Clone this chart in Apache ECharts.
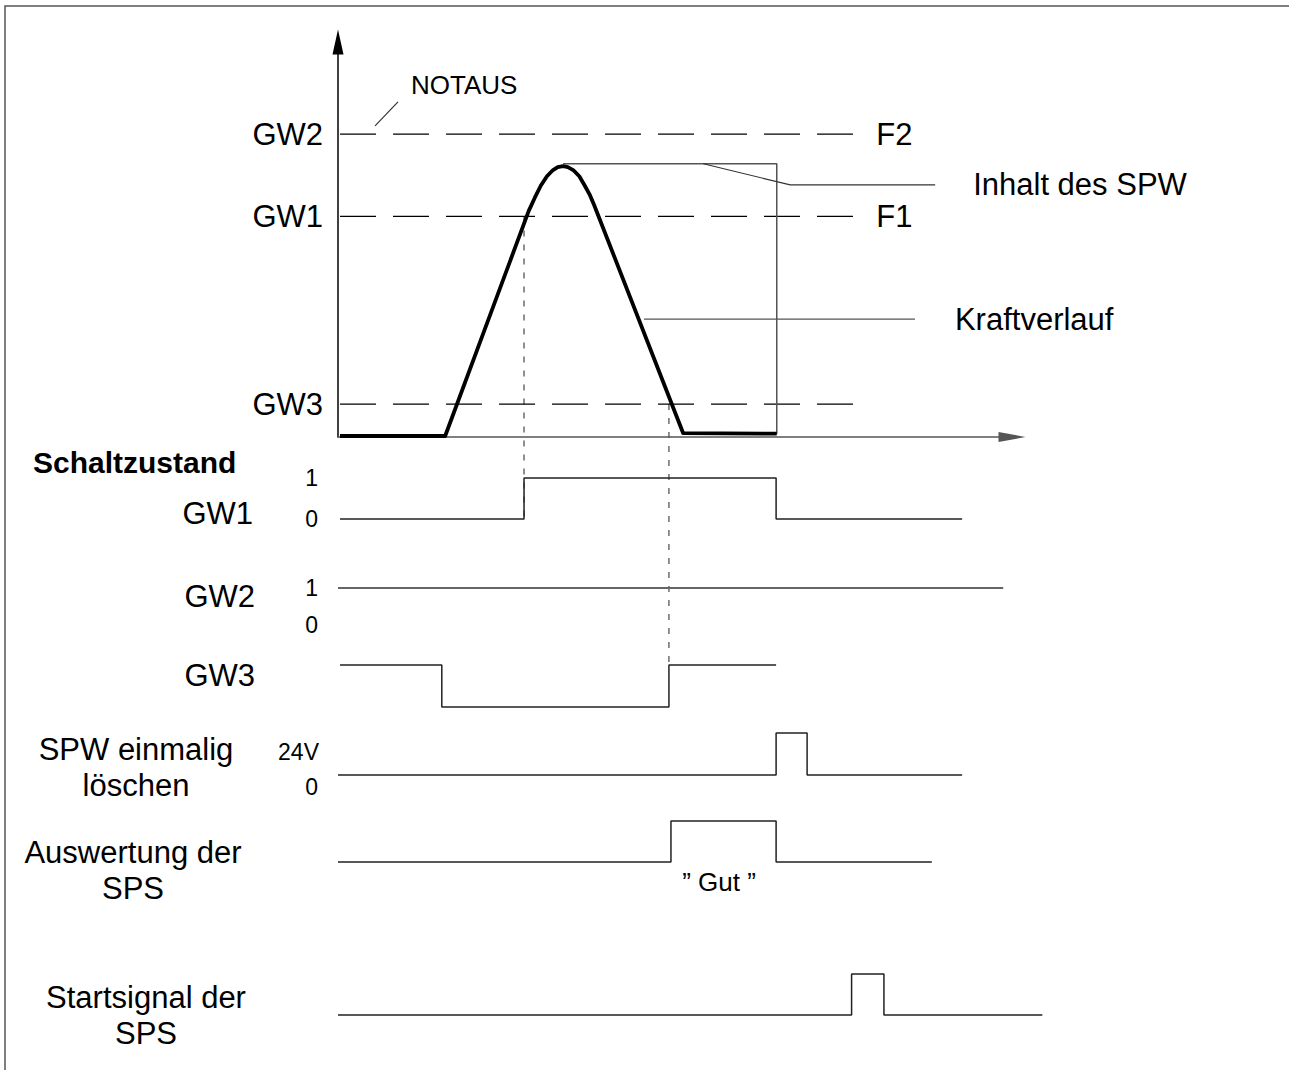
<!DOCTYPE html>
<html>
<head>
<meta charset="utf-8">
<script src="https://cdn.jsdelivr.net/npm/echarts@6/dist/echarts.min.js"></script>
<style>
  html, body { margin: 0; padding: 0; background: #fff; }
  #chart { width: 1289px; height: 1070px; }
</style>
</head>
<body>
<div id="chart"></div>
<script>
const FONT = '"Liberation Sans", Arial, Helvetica, sans-serif';

// Kraftverlauf: [time, force] (time 0..100, force 0..120)
const forceCurve = [
  [0.3, 0.3], [15.9, 0.3], [28.3, 68.7], [29.2, 72.7], [30.1, 76.4], [31.0, 79.2],
  [31.9, 81.1], [32.6, 82.0], [33.4, 82.3], [34.1, 82.0], [34.9, 81.1], [35.8, 79.2],
  [36.6, 76.4], [37.4, 73.4], [38.0, 70.5], [51.2, 1.2], [65.1, 1.0]
];
// Inhalt des SPW (peak hold)
const spwHold = [[33.4, 83], [65.1, 83], [65.1, 0.9]];

// limit values GW2 / GW1 / GW3
const limitNames = ['GW2', 'GW1', 'GW3'];
const limitValues = [92, 67, 10];
const limitEndNames = ['F2', 'F1', ''];
const limitSpan = [0.3, 76.9];

// leader lines of the annotations
const notausLeader = [[5.5, 94.5], [8.9, 101.8]];
const spwLeader = [[54.2, 83], [67.1, 76.6], [88.6, 76.6]];
const kraftLeader = [[45.4, 35.8], [85.6, 35.8]];

// switching states (step 'end')
const gw1Signal = [[0.3, 0], [27.6, 1], [65.0, 0], [92.6, 0]];
const gw2Signal = [[0, 1], [98.7, 1]];
const gw3Signal = [[0.3, 1], [15.4, 0], [49.1, 1], [65.0, 1]];
const spwSignal = [[0, 0], [65.0, 1], [69.6, 0], [92.6, 0]];
const auswSignal = [[0, 0], [49.4, 1], [65.0, 0], [88.1, 0]];
const startSignal = [[0, 0], [76.2, 1], [81.0, 0], [104.5, 0]];

// dotted guides: time, force level, signal row, level in that row
const guides = [
  { t: 27.6, force: 67, row: 1, level: 0 },
  { t: 49.1, force: 10, row: 3, level: 1 }
];

const rows = [
  { top: 478, height: 41 },  // GW1
  { top: 588, height: 37 },  // GW2
  { top: 665, height: 42 },  // GW3
  { top: 733, height: 42 },  // SPW löschen
  { top: 821, height: 41 },  // Auswertung
  { top: 974, height: 41 }   // Startsignal
];
const rowSignals = [gw1Signal, gw2Signal, gw3Signal, spwSignal, auswSignal, startSignal];
const rowTicks = [['0', '1'], ['0', '1'], null, null, null, null];

const chart = echarts.init(document.getElementById('chart'), null, { renderer: 'svg' });

const grids = [{ left: 338, top: 42, width: 674, height: 395 }];
const xAxes = [{
  gridIndex: 0, type: 'value', min: 0, max: 100,
  axisLine: { show: true, symbol: ['none', 'triangle'], symbolSize: [10, 27], lineStyle: { color: '#555', width: 1.5 } },
  axisTick: { show: false }, axisLabel: { show: false }, splitLine: { show: false }
}];
const yAxes = [{
  gridIndex: 0, type: 'value', min: 0, max: 120,
  axisLine: { show: true, symbol: ['none', 'triangle'], symbolSize: [11, 25], lineStyle: { color: '#000', width: 1.5 } },
  axisTick: { show: false }, splitLine: { show: false },
  axisLabel: {
    customValues: limitValues,
    formatter: v => limitNames[limitValues.indexOf(v)],
    fontSize: 31, color: '#000', margin: 15, fontFamily: FONT
  }
}];

const base = { type: 'line', symbol: 'none', silent: true, animation: false };
const series = [];

limitValues.forEach((v, i) => {
  series.push(Object.assign({}, base, {
    xAxisIndex: 0, yAxisIndex: 0,
    data: [[limitSpan[0], v], [limitSpan[1], v]],
    lineStyle: { color: '#000', width: 1.2, type: [36, 17] },
    endLabel: { show: limitEndNames[i] !== '', formatter: limitEndNames[i], distance: 20, fontSize: 31, color: '#000', fontFamily: FONT }
  }));
});
series.push(Object.assign({}, base, {
  xAxisIndex: 0, yAxisIndex: 0, data: spwHold,
  lineStyle: { color: '#555', width: 1.5 }
}));
series.push(Object.assign({}, base, {
  xAxisIndex: 0, yAxisIndex: 0, data: forceCurve,
  lineStyle: { color: '#000', width: 3.8, join: 'round' }
}));
series.push(Object.assign({}, base, {
  xAxisIndex: 0, yAxisIndex: 0, data: notausLeader,
  lineStyle: { color: '#333', width: 1.2 },
  endLabel: { show: true, formatter: 'NOTAUS', distance: 13, offset: [0, -17], fontSize: 26, color: '#000', fontFamily: FONT }
}));
series.push(Object.assign({}, base, {
  xAxisIndex: 0, yAxisIndex: 0, data: spwLeader,
  lineStyle: { color: '#333', width: 1.2 },
  endLabel: { show: true, formatter: 'Inhalt des SPW', distance: 38, fontSize: 31, color: '#000', fontFamily: FONT }
}));
series.push(Object.assign({}, base, {
  xAxisIndex: 0, yAxisIndex: 0, data: kraftLeader,
  lineStyle: { color: '#555', width: 1.2 },
  endLabel: { show: true, formatter: 'Kraftverlauf', distance: 40, fontSize: 31, color: '#000', fontFamily: FONT }
}));

// the signal rows use the same time scale, just a wider axis range (110 instead of 100)
rows.forEach((r, i) => {
  const gi = i + 1;
  grids.push({ left: 338, top: r.top, width: 674 * 1.1, height: r.height });
  xAxes.push({ gridIndex: gi, type: 'value', min: 0, max: 110, show: false });
  const ticks = rowTicks[i];
  yAxes.push({
    gridIndex: gi, type: 'value', min: 0, max: 1,
    axisLine: { show: false }, axisTick: { show: false }, splitLine: { show: false },
    axisLabel: ticks ? {
      customValues: [0, 1], formatter: v => ticks[v],
      fontSize: 23, color: '#000', margin: 20, fontFamily: FONT
    } : { show: false }
  });
  series.push(Object.assign({}, base, {
    xAxisIndex: gi, yAxisIndex: gi, data: rowSignals[i], step: 'end', clip: false,
    lineStyle: { color: i === 1 ? '#666' : '#222', width: i === 1 ? 2 : 1.5 }
  }));
});

chart.setOption({
  animation: false,
  textStyle: { fontFamily: FONT },
  grid: grids,
  xAxis: xAxes,
  yAxis: yAxes,
  series: series
});

// text blocks on the left side
const labels = [
  { text: 'Schaltzustand', x: 33, y: 462, align: 'left', size: 30, weight: 'bold' },
  { text: 'GW1', x: 253, y: 513, align: 'right', size: 31 },
  { text: 'GW2', x: 255, y: 596, align: 'right', size: 31 },
  { text: 'GW3', x: 255, y: 675, align: 'right', size: 31 },
  { text: 'SPW einmalig\nlöschen', x: 136, y: 767, align: 'center', size: 31 },
  { text: 'Auswertung der\nSPS', x: 133, y: 870, align: 'center', size: 31 },
  { text: 'Startsignal der\nSPS', x: 146, y: 1015, align: 'center', size: 31 },
  { text: '24V', x: 319, y: 752, align: 'right', size: 23 },
  { text: '0', x: 318, y: 787, align: 'right', size: 23 },
  { text: '” Gut ”', x: 719, y: 882, align: 'center', size: 26 }
];

const elements = [{
  type: 'rect', shape: { x: 5, y: 6, width: 1300, height: 1100 },
  style: { fill: 'none', stroke: '#555', lineWidth: 1.5 }, silent: true
}];
labels.forEach(l => {
  elements.push({
    type: 'text', x: l.x, y: l.y, silent: true,
    style: {
      text: l.text, fill: '#000', fontSize: l.size, fontFamily: FONT, fontWeight: l.weight || 'normal',
      align: l.align, textAlign: l.align, verticalAlign: 'middle', textVerticalAlign: 'middle',
      lineHeight: 36
    }
  });
});
guides.forEach(g => {
  const p1 = chart.convertToPixel({ xAxisIndex: 0, yAxisIndex: 0 }, [g.t, g.force]);
  const p2 = chart.convertToPixel({ xAxisIndex: g.row, yAxisIndex: g.row }, [g.t, g.level]);
  elements.push({
    type: 'line', silent: true,
    shape: { x1: p1[0], y1: p1[1], x2: p2[0], y2: p2[1] },
    style: { stroke: '#555', lineWidth: 1.3, lineDash: [6, 8] }
  });
});
chart.setOption({ graphic: { elements: elements } });

window.addEventListener('resize', () => chart.resize());
</script>
</body>
</html>
